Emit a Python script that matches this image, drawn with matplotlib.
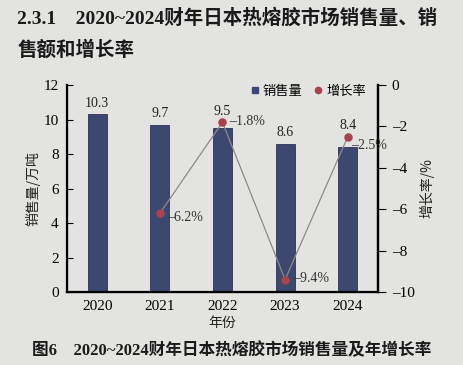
import matplotlib
matplotlib.use("Agg")
import matplotlib.pyplot as plt
from matplotlib.lines import Line2D

years = ["2020", "2021", "2022", "2023", "2024"]
sales = [10.3, 9.7, 9.5, 8.6, 8.4]
growth_years = ["2021", "2022", "2023", "2024"]
growth = [-6.2, -1.8, -9.4, -2.5]
growth_labels = ["–6.2%", "–1.8%", "–9.4%", "–2.5%"]

SERIF = ["Liberation Serif", "Noto Sans CJK SC"]
CJK = ["Noto Sans CJK SC", "DejaVu Sans"]
plt.rcParams["font.family"] = SERIF

bg = "#e3e3e1"
bar_color = "#3d4870"
dot_color = "#a8424e"

fig = plt.figure(figsize=(4.63, 3.65), dpi=100, facecolor=bg)
ax = fig.add_axes([0.145, 0.2, 0.671, 0.567], facecolor=bg)
x = list(range(len(years)))
ax.bar(x, sales, width=0.3, color=bar_color, edgecolor="#2c3450", linewidth=0.6, zorder=2)
ax.set_xlim(-0.48, 4.48)
ax.set_ylim(0, 12)
ax.set_yticks(range(0, 13, 2))
ax.set_xticks(x)
ax.set_xticklabels(years, fontsize=11)
ax.tick_params(axis="y", direction="in", labelsize=11, length=4, pad=6)
ax.tick_params(axis="x", length=0, pad=6)
ax.spines["top"].set_visible(False)
for s in ["left", "bottom", "right"]:
    ax.spines[s].set_linewidth(1.6)
label_lift = [0.25, 0.25, 0.6, 0.25, 0.9]
for xi, v, dy in zip(x, sales, label_lift):
    ax.text(xi, v + dy, f"{v}", ha="center", va="bottom", fontsize=10, color="#222222")
ax.set_ylabel("销售量/万吨", family=CJK, fontsize=10, labelpad=2, color="#222222")
ax.set_xlabel("年份", family=CJK, fontsize=10, labelpad=2, color="#222222")

ax2 = ax.twinx()
ax2.set_ylim(-10, 0)
ticks2 = list(range(-10, 1, 2))
ax2.set_yticks(ticks2)
ax2.set_yticklabels([("–" + str(abs(t))) if t < 0 else str(t) for t in ticks2])
ax2.tick_params(axis="y", direction="out", labelsize=11, length=6, pad=4)
ax2.spines["top"].set_visible(False)
ax2.spines["right"].set_linewidth(1.6)
gx = [years.index(y) for y in growth_years]
ax2.plot(gx, growth, color="#8a8a8a", linewidth=0.9, zorder=3)
ax2.scatter(gx, growth, s=26, color=dot_color, zorder=4)
offsets = [(0.12, -0.2), (0.1, 0.05), (0.12, 0.05), (0.06, -0.4)]
for xi, v, lab, (dx, dy) in zip(gx, growth, growth_labels, offsets):
    ax2.text(xi + dx, v + dy, lab, ha="left", va="center", fontsize=10, color="#333333")
ax2.set_ylabel("增长率/%", family=CJK, fontsize=10, rotation=90, labelpad=3, color="#222222")

handles = [Line2D([], [], marker="s", linestyle="", color=bar_color, markersize=5),
           Line2D([], [], marker="o", linestyle="", color=dot_color, markersize=4.5)]
ax2.legend(handles, ["销售量", "增长率"], loc="upper right", ncol=2, frameon=False,
           prop={"family": CJK, "size": 9.5}, handletextpad=0.0, columnspacing=0.6,
           handlelength=1.2, bbox_to_anchor=(1.0, 1.06))

fig.text(0.037, 0.952, "2.3.1    2020~2024财年日本热熔胶市场销售量、销", fontsize=14,
         fontweight="bold", ha="left", va="center", color="#1a1a1a")
fig.text(0.037, 0.862, "售额和增长率", fontsize=14, fontweight="bold", ha="left", va="center",
         color="#1a1a1a")
fig.text(0.5, 0.04, "图6    2020~2024财年日本热熔胶市场销售量及年增长率", fontsize=12,
         fontweight="bold", ha="center", va="center", color="#1a1a1a")

fig.savefig("out.png", dpi=100, facecolor=bg)
